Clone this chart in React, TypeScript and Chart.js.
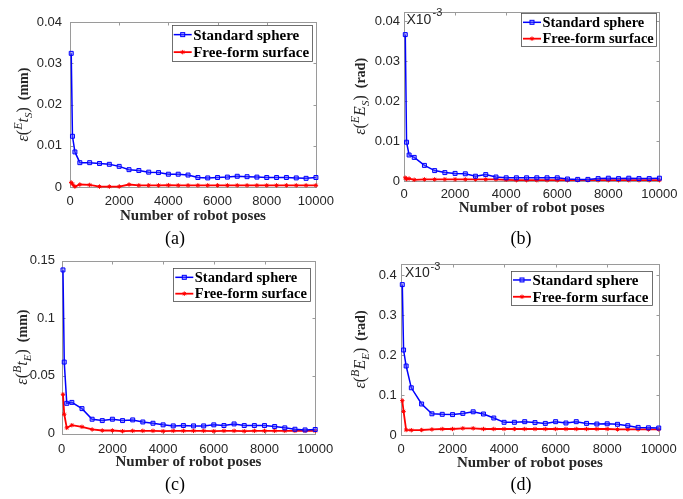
import React, { useEffect, useRef } from 'react';
import { Chart, registerables } from 'chart.js';
Chart.register(...registerables);

// ---------- data ----------
const poses = [50, 100, 200, 400, 800, 1200, 1600, 2000, 2400, 2800, 3200, 3600, 4000, 4400, 4800, 5200, 5600, 6000, 6400, 6800, 7200, 7600, 8000, 8400, 8800, 9200, 9600, 10000];

const sphereA = [0.0324, 0.0123, 0.0085, 0.0059, 0.0059, 0.0057, 0.0055, 0.0050, 0.0042, 0.0040, 0.0036, 0.0035, 0.0031, 0.0031, 0.0029, 0.0023, 0.0022, 0.0023, 0.0024, 0.0026, 0.0025, 0.0024, 0.0023, 0.0023, 0.0023, 0.0022, 0.0021, 0.0023];
const freeA = [0.0011, 0.0007, 0.0001, 0.0006, 0.0005, 0.0001, 0.0001, 0.0001, 0.0006, 0.0004, 0.0004, 0.0004, 0.00045, 0.0004, 0.0004, 0.0004, 0.0004, 0.0004, 0.0004, 0.0004, 0.0004, 0.0004, 0.0004, 0.0004, 0.0004, 0.0004, 0.0004, 0.0004];

const sphereB = [0.0366, 0.0097, 0.0065, 0.0059, 0.0039, 0.0026, 0.0021, 0.0019, 0.0018, 0.0012, 0.0016, 0.0010, 0.0008, 0.0008, 0.0008, 0.0008, 0.0008, 0.0008, 0.0005, 0.0004, 0.0004, 0.0006, 0.0007, 0.0006, 0.0007, 0.0006, 0.0006, 0.0007];
const freeB = [0.0008, 0.0005, 0.0006, 0.0003, 0.0004, 0.0004, 0.0004, 0.0004, 0.0004, 0.0004, 0.0004, 0.0004, 0.0003, 0.0002, 0.0002, 0.0002, 0.0002, 0.0002, 0.0002, 0.0002, 0.0002, 0.0002, 0.0002, 0.0002, 0.0002, 0.0002, 0.0002, 0.0002];

const sphereC = [0.142, 0.062, 0.0262, 0.027, 0.0216, 0.0124, 0.0112, 0.0124, 0.0112, 0.0118, 0.0100, 0.0089, 0.0075, 0.0066, 0.0069, 0.0066, 0.0066, 0.0075, 0.0069, 0.0083, 0.0069, 0.0069, 0.0069, 0.0061, 0.0049, 0.0037, 0.0031, 0.0035];
const freeC = [0.034, 0.0167, 0.0049, 0.0072, 0.0058, 0.0035, 0.0026, 0.0026, 0.0020, 0.0023, 0.0023, 0.0023, 0.0020, 0.0023, 0.0023, 0.0023, 0.0023, 0.0020, 0.0023, 0.0023, 0.0020, 0.0023, 0.0023, 0.0023, 0.0023, 0.0023, 0.0023, 0.0023];

const sphereD = [0.376, 0.2125, 0.1725, 0.118, 0.0775, 0.053, 0.0517, 0.051, 0.054, 0.058, 0.0525, 0.0425, 0.0317, 0.0317, 0.0333, 0.031, 0.029, 0.0333, 0.030, 0.0333, 0.029, 0.0275, 0.028, 0.0267, 0.0233, 0.019, 0.018, 0.0175];
const freeD = [0.086, 0.059, 0.0125, 0.012, 0.0125, 0.014, 0.015, 0.015, 0.0167, 0.0167, 0.015, 0.015, 0.015, 0.015, 0.015, 0.015, 0.015, 0.015, 0.015, 0.015, 0.015, 0.015, 0.015, 0.014, 0.014, 0.014, 0.014, 0.014];

const seriesNames = ['Standard sphere', 'Free-form surface'];
const xTitle = 'Number of robot poses';
const captions = ['(a)', '(b)', '(c)', '(d)'];
// y-label parts: [superscript, main symbol, subscript, unit]
const yLabelA = ['E', 't', 'S', 'mm'];
const yLabelB = ['E', 'E', 'S', 'rad'];
const yLabelC = ['B', 't', 'E', 'mm'];
const yLabelD = ['B', 'E', 'E', 'rad'];
const exponentBase = 'X10';
const exponentPower = '-3';

// ---------- styles ----------
const SANS = '"Liberation Sans", Arial, sans-serif';
const SERIF = '"Liberation Serif", "Times New Roman", serif';
const TXT = '#262626';
const FRAME = '#9a9a9a';

type Panel = {
  cx: number; cy: number; cw: number; ch: number;
  L: number; T: number; R: number; B: number; xh: number;
  ymax: number; ystep: number; ytp: number; xtp: number;
  ylx: number; ylab: string[];
  sphere: number[]; free: number[];
  lg: { x: number; y: number; w: number; h: number; fs: number };
  exp: null | { x: number; y: number; sx: number; sy: number };
};

const panels: Panel[] = [
  { cx: 0, cy: 0, cw: 341, ch: 235, L: 70, T: 22, R: 318, B: 187, xh: 38, ymax: 0.04, ystep: 0.01, ytp: 8, xtp: 7, ylx: 28, ylab: yLabelA, sphere: sphereA, free: freeA, lg: { x: 171.7, y: 25, w: 140, h: 35.7, fs: 15 }, exp: null },
  { cx: 341, cy: 0, cw: 342, ch: 235, L: 63, T: 7, R: 321, B: 181, xh: 36.3, ymax: 0.0423, ystep: 0.01, ytp: 4, xtp: 5.5, ylx: 24, ylab: yLabelB, sphere: sphereB, free: freeB, lg: { x: 180, y: 13.3, w: 135, h: 33.4, fs: 14.4 }, exp: { x: 65.5, y: 20.5, sx: 91.5, sy: 13 } },
  { cx: 0, cy: 245, cw: 341, ch: 254, L: 61.7, T: 15.7, R: 320.7, B: 188.5, xh: 37.2, ymax: 0.15, ystep: 0.05, ytp: 6.7, xtp: 7.7, ylx: 27, ylab: yLabelC, sphere: sphereC, free: freeC, lg: { x: 173.3, y: 23.3, w: 136.7, h: 33.4, fs: 14.5 }, exp: null },
  { cx: 341, cy: 245, cw: 342, ch: 254, L: 60, T: 19, R: 318, B: 190, xh: 36.7, ymax: 0.4275, ystep: 0.1, ytp: 4.3, xtp: 6.2, ylx: 24, ylab: yLabelD, sphere: sphereD, free: freeD, lg: { x: 170, y: 25.7, w: 141.3, h: 34.3, fs: 15 }, exp: { x: 64, y: 28.5, sx: 89.5, sy: 21.5 } },
];

const captionPos = [
  { x: 175, y: 238 },
  { x: 521, y: 238 },
  { x: 175, y: 484 },
  { x: 521, y: 484 },
];

function drawStar(ctx: CanvasRenderingContext2D, x: number, y: number, r: number) {
  ctx.beginPath();
  ctx.moveTo(x - r, y); ctx.lineTo(x + r, y);
  ctx.moveTo(x, y - r); ctx.lineTo(x, y + r);
  const d = r * 0.7;
  ctx.moveTo(x - d, y - d); ctx.lineTo(x + d, y + d);
  ctx.moveTo(x - d, y + d); ctx.lineTo(x + d, y - d);
  ctx.stroke();
}

function makeDecor(p: Panel) {
  return {
    id: 'decor',
    beforeDatasetsDraw(chart: any) {
      const ctx = chart.ctx as CanvasRenderingContext2D;
      const { left, right, top, bottom } = chart.chartArea;
      ctx.save();
      ctx.strokeStyle = FRAME;
      ctx.lineWidth = 1;
      const l = Math.round(left) + 0.5, r = Math.round(right) + 0.5, t = Math.round(top) + 0.5, b = Math.round(bottom) + 0.5;
      ctx.strokeRect(l, t, r - l, b - t);
      const tl = 3;
      ctx.beginPath();
      for (const tk of chart.scales.x.ticks) {
        const px = Math.round(chart.scales.x.getPixelForValue(tk.value)) + 0.5;
        ctx.moveTo(px, b); ctx.lineTo(px, b - tl);
        ctx.moveTo(px, t); ctx.lineTo(px, t + tl);
      }
      for (const tk of chart.scales.y.ticks) {
        const py = Math.round(chart.scales.y.getPixelForValue(tk.value)) + 0.5;
        ctx.moveTo(l, py); ctx.lineTo(l + tl, py);
        ctx.moveTo(r, py); ctx.lineTo(r - tl, py);
      }
      ctx.stroke();
      ctx.restore();
    },
    afterDatasetsDraw(chart: any) {
      const ctx = chart.ctx as CanvasRenderingContext2D;
      ctx.save();
      const g = p.lg;
      ctx.fillStyle = '#ffffff';
      ctx.fillRect(g.x, g.y, g.w, g.h);
      ctx.strokeStyle = '#4d4d4d';
      ctx.lineWidth = 0.8;
      ctx.strokeRect(Math.round(g.x) + 0.5, Math.round(g.y) + 0.5, Math.round(g.w), Math.round(g.h));
      const rows = [g.y + g.h * 0.27, g.y + g.h * 0.76];
      const colors = ['#0000ff', '#ff0000'];
      ctx.font = `bold ${g.fs}px ${SERIF}`;
      ctx.textBaseline = 'middle';
      ctx.textAlign = 'left';
      rows.forEach((ry, i) => {
        ctx.strokeStyle = colors[i];
        ctx.lineWidth = i === 0 ? 1.5 : 1.8;
        ctx.beginPath();
        ctx.moveTo(g.x + 2, ry); ctx.lineTo(g.x + 20, ry);
        ctx.stroke();
        ctx.lineWidth = 1;
        if (i === 0) {
          ctx.fillStyle = 'rgba(90,90,255,0.45)';
          ctx.fillRect(g.x + 9, ry - 2, 4, 4);
          ctx.strokeRect(g.x + 9, ry - 2, 4, 4);
        } else {
          drawStar(ctx, g.x + 11, ry, 2.2);
        }
        ctx.fillStyle = '#000000';
        ctx.fillText(seriesNames[i], g.x + 21.5, ry + 1);
      });
      ctx.restore();
    },
    afterDraw(chart: any) {
      const ctx = chart.ctx as CanvasRenderingContext2D;
      const { top, bottom } = chart.chartArea;
      // exponent
      if (p.exp) {
        ctx.save();
        ctx.fillStyle = TXT;
        ctx.textAlign = 'left';
        ctx.textBaseline = 'middle';
        ctx.font = `14px ${SANS}`;
        ctx.fillText(exponentBase, p.exp.x, p.exp.y);
        ctx.font = `11px ${SANS}`;
        ctx.fillText(exponentPower, p.exp.sx, p.exp.sy);
        ctx.restore();
      }
      // y label
      ctx.save();
      const cy = (top + bottom) / 2;
      const segs = [
        { t: '\u03b5', f: `italic 16px ${SERIF}`, dy: 0 },
        { t: '(', f: `16px ${SERIF}`, dy: 0 },
        { t: p.ylab[0], f: `italic 12px ${SERIF}`, dy: -6.5 },
        { t: p.ylab[1], f: `italic 16px ${SERIF}`, dy: 0 },
        { t: p.ylab[2], f: `italic 11px ${SERIF}`, dy: 4 },
        { t: ')', f: `16px ${SERIF}`, dy: 0 },
        { t: '  (' + p.ylab[3] + ')', f: `bold 14px ${SERIF}`, dy: 0 },
      ];
      ctx.translate(p.ylx, cy);
      ctx.rotate(-Math.PI / 2);
      ctx.textAlign = 'left';
      ctx.textBaseline = 'alphabetic';
      ctx.fillStyle = TXT;
      let total = 0;
      for (const s of segs) { ctx.font = s.f; total += ctx.measureText(s.t).width; }
      let x = -total / 2;
      for (const s of segs) {
        ctx.font = s.f;
        ctx.fillText(s.t, x, s.dy);
        x += ctx.measureText(s.t).width;
      }
      ctx.restore();
    },
  };
}

function PanelChart({ p }: { p: Panel }) {
  const ref = useRef<HTMLCanvasElement>(null);
  useEffect(() => {
    const chart = new Chart(ref.current!, {
      type: 'line',
      data: {
        datasets: [
          {
            label: seriesNames[0],
            data: poses.map((x, i) => ({ x, y: p.sphere[i] })),
            borderColor: '#0000ff',
            backgroundColor: 'rgba(90,90,255,0.45)',
            borderWidth: 1.5,
            pointStyle: 'rect',
            pointRadius: 2.8,
            pointBorderWidth: 1,
            pointBorderColor: '#0000ff',
            pointBackgroundColor: 'rgba(90,90,255,0.45)',
            tension: 0,
            clip: false as any,
          },
          {
            label: seriesNames[1],
            data: poses.map((x, i) => ({ x, y: p.free[i] })),
            borderColor: '#ff0000',
            backgroundColor: '#ff0000',
            borderWidth: 1.8,
            pointStyle: 'star',
            pointRadius: 2.2,
            pointBorderWidth: 1,
            pointBorderColor: '#ff0000',
            tension: 0,
            clip: false as any,
          },
        ],
      },
      options: {
        animation: false,
        responsive: false,
        devicePixelRatio: 1,
        events: [],
        layout: { padding: { left: 0, top: p.T, right: p.cw - p.R, bottom: p.ch - p.B - p.xh } },
        plugins: { legend: { display: false }, tooltip: { enabled: false } },
        scales: {
          x: {
            type: 'linear', min: 0, max: 10000,
            grid: { display: false, drawTicks: false },
            border: { display: false },
            ticks: { stepSize: 2000, padding: p.xtp, maxRotation: 0, autoSkip: false, color: TXT, font: { family: SANS, size: 13 }, callback: (v: any) => String(v) },
            title: { display: true, text: xTitle, color: TXT, padding: 0, font: { family: SERIF, size: 15, weight: 'bold' } },
            afterFit: (s: any) => { s.height = p.xh; },
          },
          y: {
            type: 'linear', min: 0, max: p.ymax,
            grid: { display: false, drawTicks: false },
            border: { display: false },
            ticks: { stepSize: p.ystep, includeBounds: false, padding: p.ytp, color: TXT, font: { family: SANS, size: 13 }, callback: (v: any) => String(Math.round(Number(v) * 10000) / 10000) },
            afterFit: (s: any) => { s.width = p.L; },
          },
        },
      } as any,
      plugins: [makeDecor(p)],
    });
    return () => chart.destroy();
  }, []);
  return (
    <canvas
      ref={ref}
      width={p.cw}
      height={p.ch}
      style={{ position: 'absolute', left: p.cx, top: p.cy, width: p.cw, height: p.ch }}
    />
  );
}

export default function App() {
  return (
    <div style={{ position: 'fixed', left: 0, top: 0, width: 683, height: 499, background: '#ffffff', overflow: 'hidden' }}>
      {panels.map((p, i) => <PanelChart key={i} p={p} />)}
      {captions.map((c, i) => (
        <div
          key={c}
          style={{
            position: 'absolute', left: captionPos[i].x, top: captionPos[i].y,
            transform: 'translate(-50%, -50%)', fontFamily: SERIF, fontSize: 18, lineHeight: 1, color: '#000',
          }}
        >{c}</div>
      ))}
    </div>
  );
}
